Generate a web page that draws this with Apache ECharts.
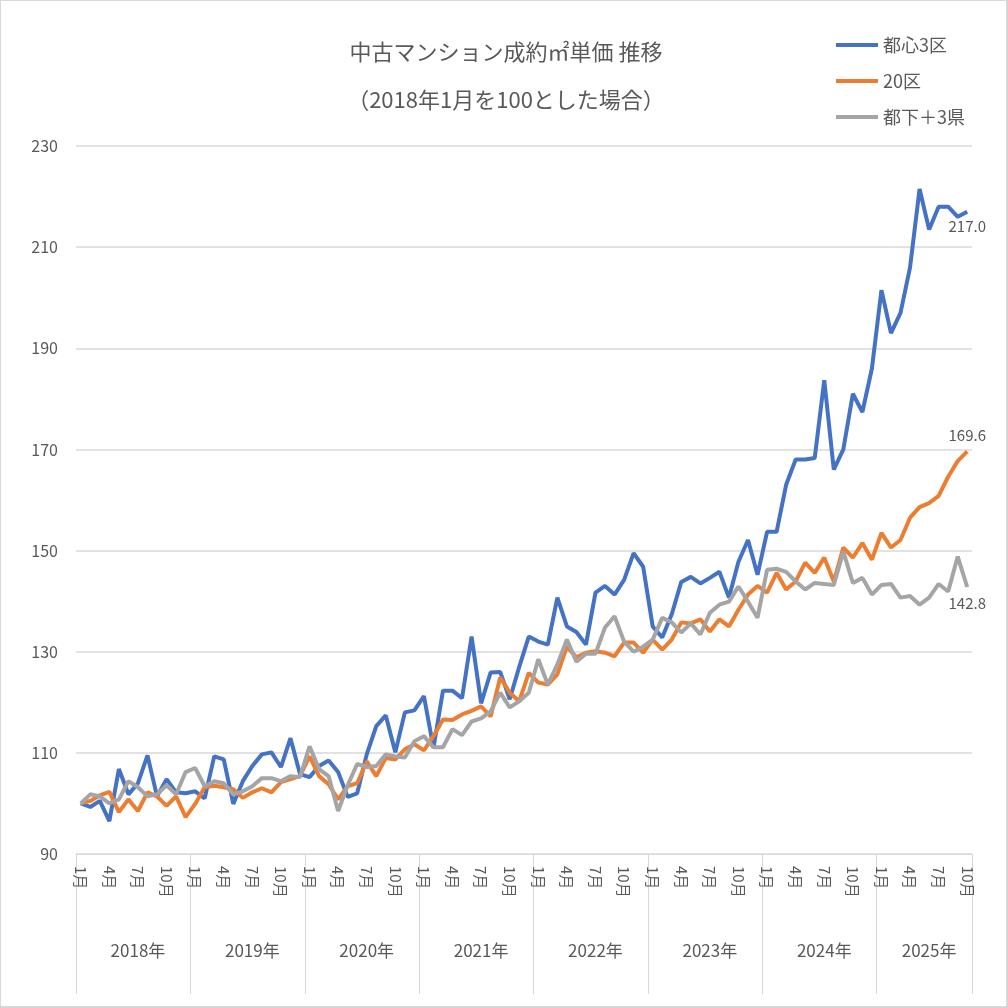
<!DOCTYPE html>
<html>
<head>
<meta charset="utf-8">
<script src="https://cdn.jsdelivr.net/npm/echarts@6/dist/echarts.min.js"></script>
<style>
  html, body { margin: 0; padding: 0; background: #fff; }
  #main { width: 1005px; height: 1005px; border: 1px solid #d9d9d9; }
</style>
</head>
<body>
<div id="main"></div>
<script>
// 年・月
var years = ["2018年", "2019年", "2020年", "2021年", "2022年", "2023年", "2024年", "2025年"];
var monthCounts = [12, 12, 12, 12, 12, 12, 12, 10];
var yTicks = [90, 110, 130, 150, 170, 190, 210, 230];

// 都心3区
var tokyoCore = [
  100, 99.3, 100.5, 96.5, 106.8, 101.8, 104, 109.5, 101.4, 104.8, 102.2, 102,
  102.4, 101, 109.3, 108.7, 99.9, 104.4, 107.4, 109.7, 110.1, 107.2, 112.9, 105.8,
  105.2, 107.4, 108.5, 106.2, 101.3, 102, 109.7, 115.3, 117.4, 110.1, 118, 118.4,
  121.2, 111, 122.3, 122.3, 120.8, 133, 119.8, 125.9, 126, 120.6, 127, 133,
  132, 131.4, 140.7, 135, 133.9, 131.4, 141.7, 143, 141.3, 144.2, 149.5, 146.8,
  135, 132.8, 137.4, 143.8, 144.8, 143.5, 144.6, 145.8, 140.7, 147.8, 152.1, 145.2,
  153.7, 153.7, 163, 168, 168, 168.3, 183.7, 166, 170, 181, 177.4, 186,
  201.5, 193, 197, 206, 221.5, 213.5, 218, 218, 216, 217
];
// 20区
var ward20 = [
  100, 100.5, 101.6, 102.3, 98.3, 100.8, 98.5, 102.2, 101.4, 99.5, 101.4, 97.3,
  99.9, 103.2, 103.5, 103.2, 102.8, 101.1, 102.2, 103, 102.2, 104.2, 104.8, 105.4,
  109.3, 105.4, 103.8, 100.8, 103.4, 104, 108.3, 105.4, 109, 108.7, 110.7, 111.7,
  110.5, 113.3, 116.6, 116.5, 117.6, 118.3, 119.2, 117.2, 124.9, 121.9, 120.2, 125.8,
  123.9, 123.5, 125.5, 131, 128.9, 129.8, 130.1, 129.8, 129.1, 131.8, 131.8, 129.8,
  132.4, 130.4, 132.4, 135.8, 135.6, 136.4, 134, 136.4, 135, 138.3, 141.3, 143,
  141.7, 145.6, 142.3, 143.9, 147.6, 145.6, 148.6, 143.9, 150.6, 148.6, 151.5, 148.2,
  153.5, 150.6, 152.1, 156.5, 158.6, 159.4, 160.8, 164.6, 167.7, 169.6
];
// 都下＋3県
var suburbs = [
  100, 101.8, 101.4, 100, 100.8, 104.4, 103.2, 101.4, 101.8, 103.6, 101.8, 106.2,
  107, 103.4, 104.4, 104, 101.8, 102.4, 103.4, 105, 105, 104.4, 105.4, 105.2,
  111.3, 106.8, 105.4, 98.5, 103.6, 107.8, 107.2, 107.4, 109.7, 109.3, 109.1, 112.3,
  113.3, 111.1, 111.1, 114.7, 113.5, 116.2, 116.8, 118.2, 121.9, 119, 120.2, 121.9,
  128.5, 123.5, 127.5, 132.4, 128, 129.6, 129.6, 134.8, 137, 132, 130, 131,
  132.4, 136.7, 135.8, 133.8, 135.6, 133.4, 137.7, 139.3, 139.9, 142.9, 139.9, 136.7,
  146.2, 146.4, 145.8, 143.9, 142.3, 143.6, 143.4, 143.2, 149.8, 143.6, 144.6, 141.3,
  143.2, 143.4, 140.7, 141, 139.3, 140.7, 143.4, 141.9, 148.8, 142.8
];

var months = [];
var yearOfMonth = [];
var yearLabelIdx = {};
var yearStartIdx = {};
years.forEach(function (y, k) {
  var start = months.length;
  yearStartIdx[start] = true;
  for (var m = 1; m <= monthCounts[k]; m++) {
    months.push(m + "月");
    yearOfMonth.push(y);
  }
  yearLabelIdx[start + Math.floor(monthCounts[k] / 2)] = true;
});
var lastIdx = months.length - 1;

var font = "Noto Sans CJK JP";
var textColor = "#595959";

// 最終月だけ値を出す
function endLabel(pos, offset) {
  return {
    show: true,
    position: pos,
    offset: offset,
    color: textColor,
    fontFamily: font,
    fontSize: 15,
    formatter: function (p) {
      return p.dataIndex === lastIdx ? p.value.toFixed(1) : "";
    }
  };
}

function lineSeries(name, data, color, label) {
  return {
    name: name, type: "line", data: data,
    symbol: "circle", symbolSize: 0.1, showSymbol: true,
    lineStyle: { color: color, width: 4 }, itemStyle: { color: color },
    label: label
  };
}

var chart = echarts.init(document.getElementById("main"));
var option = {
  animation: false,
  textStyle: { fontFamily: font },
  title: {
    text: "中古マンション成約㎡単価 推移\n（2018年1月を100とした場合）",
    left: 500,
    top: 22,
    textAlign: "center",
    textStyle: { color: textColor, fontSize: 22, fontWeight: "normal", lineHeight: 48, fontFamily: font }
  },
  legend: {
    orient: "vertical",
    left: 830,
    top: 30,
    icon: "rect",
    itemWidth: 42,
    itemHeight: 4,
    itemGap: 18,
    textStyle: { color: textColor, fontSize: 18, fontFamily: font },
    data: ["都心3区", "20区", "都下＋3県"]
  },
  grid: { left: 75, right: 34, top: 145, bottom: 152 },
  xAxis: [
    {
      type: "category",
      data: months,
      boundaryGap: true,
      axisLine: { lineStyle: { color: "#d9d9d9", width: 1 } },
      axisTick: { show: false },
      axisLabel: {
        interval: function (i) { return (months[i] === "1月" || months[i] === "4月" || months[i] === "7月" || months[i] === "10月"); },
        rotate: -90,
        color: textColor,
        fontSize: 15,
        margin: 12,
        fontFamily: font
      }
    },
    {
      type: "category",
      data: yearOfMonth,
      position: "bottom",
      boundaryGap: true,
      axisLine: { show: false },
      axisTick: {
        show: true,
        interval: function (i) { return !!yearStartIdx[i]; },
        length: 140,
        lineStyle: { color: "#d9d9d9" }
      },
      axisLabel: {
        interval: function (i) { return !!yearLabelIdx[i]; },
        color: textColor,
        fontSize: 17,
        margin: 88,
        fontFamily: font
      }
    }
  ],
  yAxis: {
    type: "value",
    min: yTicks[0],
    max: yTicks[yTicks.length - 1],
    interval: 20,
    axisLine: { show: false },
    axisTick: { show: false },
    splitLine: { lineStyle: { color: "#d9d9d9", width: 1.5 } },
    axisLabel: { color: textColor, fontSize: 16, margin: 18, fontFamily: font }
  },
  series: [
    lineSeries("都心3区", tokyoCore, "#4472c4", endLabel("bottom", [0, 2])),
    lineSeries("20区", ward20, "#ed7d31", endLabel("top", [0, -4])),
    lineSeries("都下＋3県", suburbs, "#a5a5a5", endLabel("bottom", [0, 4]))
  ]
};
chart.setOption(option);
</script>
</body>
</html>
